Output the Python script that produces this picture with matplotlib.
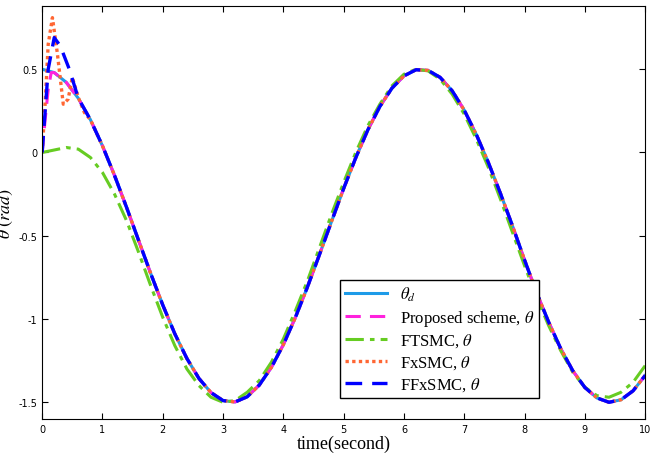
import matplotlib.pyplot as plt

t = [0, 0.2, 0.4, 0.6, 0.8, 1.0, 1.2, 1.4, 1.6, 1.8, 2.0, 2.2, 2.4, 2.6, 2.8, 3.0, 3.2, 3.4, 3.6, 3.8,
     4.0, 4.2, 4.4, 4.6, 4.8, 5.0, 5.2, 5.4, 5.6, 5.8, 6.0, 6.2, 6.4, 6.6, 6.8, 7.0, 7.2, 7.4, 7.6, 7.8,
     8.0, 8.2, 8.4, 8.6, 8.8, 9.0, 9.2, 9.4, 9.6, 9.8, 10.0]
theta_d = [0.5, 0.480, 0.421, 0.325, 0.197, 0.040, -0.138, -0.330, -0.529, -0.727, -0.916, -1.089, -1.237,
           -1.357, -1.442, -1.490, -1.498, -1.467, -1.397, -1.291, -1.154, -0.990, -0.807, -0.612, -0.413,
           -0.216, -0.032, 0.135, 0.276, 0.386, 0.460, 0.497, 0.493, 0.451, 0.370, 0.254, 0.108, -0.061,
           -0.246, -0.441, -0.646, -0.842, -1.019, -1.178, -1.311, -1.411, -1.474, -1.500, -1.485, -1.431, -1.339]
ftsmc = [0, 0.015, 0.03, 0.02, -0.03, -0.12, -0.25, -0.41, -0.60, -0.80, -0.99, -1.16, -1.30, -1.40, -1.47,
         -1.50, -1.49, -1.44, -1.37, -1.26, -1.12, -0.95, -0.77, -0.57, -0.37, -0.18, 0.0, 0.16, 0.29, 0.40,
         0.47, 0.50, 0.49, 0.44, 0.35, 0.23, 0.08, -0.09, -0.28, -0.48, -0.68, -0.87, -1.04, -1.19, -1.32,
         -1.41, -1.46, -1.47, -1.44, -1.38, -1.28]

# transient heads, then each follows theta_d
t_prop = [0, 0.05, 0.1, 0.15, 0.2, 0.4]
prop_head = [0, 0.2, 0.38, 0.48, 0.48, 0.421]
t_fx = [0, 0.05, 0.1, 0.17, 0.25, 0.35, 0.43, 0.5, 0.6, 0.7, 0.8]
fx_head = [0, 0.3, 0.65, 0.81, 0.6, 0.29, 0.32, 0.45, 0.33, 0.24, 0.197]
t_ffx = [0, 0.05, 0.1, 0.2, 0.3, 0.45, 0.6]
ffx_head = [0, 0.25, 0.5, 0.69, 0.64, 0.5, 0.325]

plt.rcParams['font.family'] = ['Liberation Serif', 'DejaVu Serif']
plt.rcParams['mathtext.fontset'] = 'stix'
fig, ax = plt.subplots(figsize=(6.59, 4.64), dpi=100)
fig.subplots_adjust(left=0.064, right=0.979, bottom=0.095, top=0.985)

ax.plot(t, theta_d, color='#1e9be8', lw=2.2, label=r'$\theta_d$')
ax.plot(t_prop + t[3:], prop_head + theta_d[3:], color='#ff22dd', lw=2.2, ls=(0, (5, 3)),
        label=r'Proposed scheme, $\theta$')
ax.plot(t, ftsmc, color='#66cc22', lw=2.2, ls=(0, (6, 2, 1.5, 2)), label=r'FTSMC, $\theta$')
ax.plot(t_fx + t[5:], fx_head + theta_d[5:], color='#ff6633', lw=2.4, ls=(0, (1, 1)),
        label=r'FxSMC, $\theta$')
ax.plot(t_ffx + t[4:], ffx_head + theta_d[4:], color='#0000ff', lw=2.4, ls=(0, (5, 3)),
        label=r'FFxSMC, $\theta$')

ax.set_xlim(0, 10)
ax.set_ylim(-1.6, 0.88)
ax.set_xticks(range(11))
ax.set_yticks([-1.5, -1, -0.5, 0, 0.5])
ax.set_yticklabels(['-1.5', '-1', '-0.5', '0', '0.5'])
for lab in ax.get_xticklabels() + ax.get_yticklabels():
    lab.set_family('DejaVu Sans')
    lab.set_fontsize(7)
ax.tick_params(direction='in', length=4, top=True, right=True)
ax.set_xlabel('time(second)', fontsize=13, labelpad=1)
ax.set_ylabel(r'$\theta\;(rad)$', fontsize=13)
ax.yaxis.set_label_coords(-0.045, 0.5)
ax.legend(loc='lower left', bbox_to_anchor=(0.48, 0.03), fontsize=12, fancybox=False,
          edgecolor='black', framealpha=1, handlelength=2.5, borderpad=0.3, labelspacing=0.25)
fig.savefig('out.png')
